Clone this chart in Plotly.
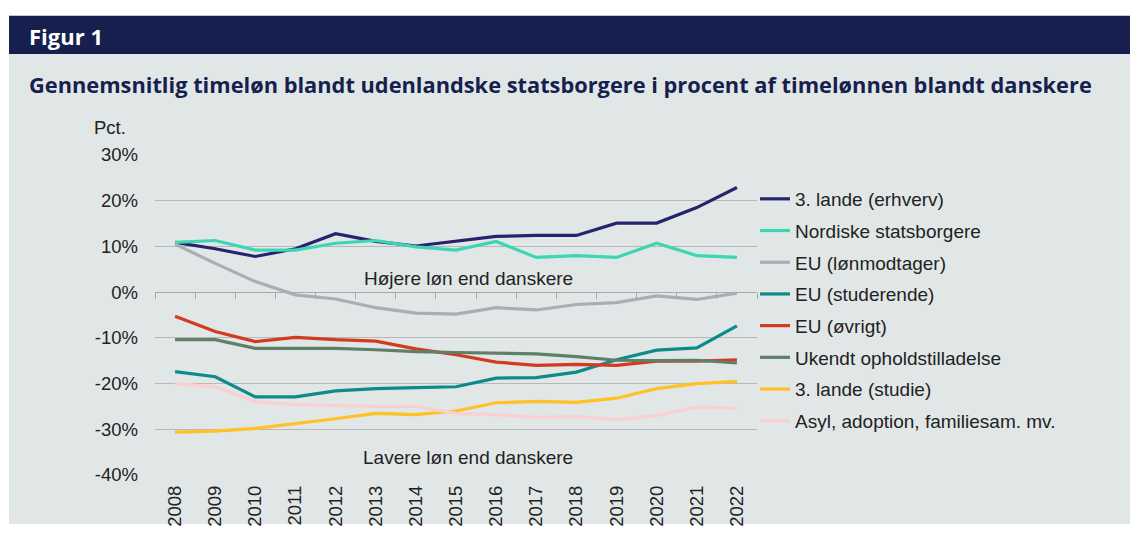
import plotly.graph_objects as go

years = [str(y) for y in range(2008, 2023)]

series_names = [
    "3. lande (erhverv)",
    "Nordiske statsborgere",
    "EU (lønmodtager)",
    "EU (studerende)",
    "EU (øvrigt)",
    "Ukendt opholdstilladelse",
    "3. lande (studie)",
    "Asyl, adoption, familiesam. mv.",
]

lande_erhverv = [10.9, 9.5, 7.8, 9.5, 12.8, 11.1, 10.1, 11.1, 12.2, 12.4, 12.4, 15.1, 15.1, 18.5, 22.9]
nordiske = [10.9, 11.3, 9.2, 9.2, 10.7, 11.3, 9.9, 9.2, 11.1, 7.6, 8.0, 7.6, 10.7, 8.0, 7.6]
eu_loenmodtager = [10.5, 6.3, 2.3, -0.6, -1.5, -3.4, -4.6, -4.8, -3.4, -3.9, -2.7, -2.3, -0.8, -1.6, -0.2]
eu_studerende = [-17.4, -18.5, -22.9, -22.9, -21.6, -21.1, -20.9, -20.7, -18.8, -18.7, -17.5, -14.8, -12.7, -12.2, -7.4]
eu_oevrigt = [-5.3, -8.6, -10.8, -9.9, -10.4, -10.7, -12.4, -13.7, -15.3, -16.0, -15.8, -16.0, -15.1, -15.1, -14.8]
ukendt = [-10.4, -10.4, -12.3, -12.3, -12.3, -12.6, -13.0, -13.2, -13.3, -13.5, -14.1, -14.9, -15.0, -14.9, -15.5]
lande_studie = [-30.6, -30.4, -29.8, -28.8, -27.7, -26.5, -26.8, -26.0, -24.2, -23.9, -24.1, -23.2, -21.1, -20.0, -19.5]
asyl = [-20.0, -20.7, -23.9, -24.6, -24.8, -25.0, -25.0, -26.5, -26.8, -27.4, -27.2, -27.9, -27.0, -25.1, -25.4]

series_values = [lande_erhverv, nordiske, eu_loenmodtager, eu_studerende,
                 eu_oevrigt, ukendt, lande_studie, asyl]
colors = ["#27236e", "#3dd6b5", "#a8adb6", "#0e8a8a",
          "#d23b1f", "#5f7f68", "#ffc125", "#f9cfd1"]

y_ticks = [-40, -30, -20, -10, 0, 10, 20, 30]
y_tick_labels = ["-40%", "-30%", "-20%", "-10%", "0%", "10%", "20%", "30%"]

W, H = 1130, 539
L, R, T, B = 155, 757, 155, 488  # plot area in px

fig = go.Figure()
for i, (name, vals, col) in enumerate(zip(series_names, series_values, colors)):
    fig.add_trace(go.Scatter(
        x=years, y=vals, name=name, mode="lines",
        line=dict(color=col, width=3.2),
        legendgroup=f"g{i}",
        xaxis="x2" if i == len(series_names) - 1 else "x",
        yaxis="y",
    ))

def px_x(p):
    return (p - L) / (R - L)

def px_y(p):
    return (B - p) / (B - T)

panel = "#e1e7e7"
navy = "#161f4d"
shapes = [
    dict(type="rect", xref="paper", yref="paper", layer="below",
         x0=px_x(9), x1=px_x(W), y0=px_y(50), y1=px_y(H),
         fillcolor=panel, line=dict(width=0)),
    dict(type="rect", xref="paper", yref="paper", layer="below",
         x0=px_x(9), x1=px_x(W), y0=px_y(10), y1=px_y(50),
         fillcolor=navy, line=dict(width=0)),
]

font_main = "Liberation Sans, Arial, sans-serif"
title_font = "Open Sans"
annotations = [
    dict(text="<b>Figur 1</b>", xref="paper", yref="paper", x=px_x(27), y=px_y(31),
         xanchor="left", yanchor="middle", showarrow=False,
         font=dict(family=title_font, size=22, color="white")),
    dict(text="<b>Gennemsnitlig timeløn blandt udenlandske statsborgere i procent af timelønnen blandt danskere</b>",
         xref="paper", yref="paper", x=px_x(27), y=px_y(82),
         xanchor="left", yanchor="middle", showarrow=False,
         font=dict(family=title_font, size=21.8, color=navy)),
    dict(text="Pct.", xref="paper", yref="paper", x=px_x(92), y=px_y(126),
         xanchor="left", yanchor="middle", showarrow=False,
         font=dict(family=font_main, size=18.5, color="#222222")),
    dict(text="Højere løn end danskere", xref="paper", yref="y", x=px_x(468), y=2.9,
         xanchor="center", yanchor="middle", showarrow=False,
         font=dict(family=font_main, size=19, color="#222222")),
    dict(text="Lavere løn end danskere", xref="paper", yref="y", x=px_x(468), y=-36.1,
         xanchor="center", yanchor="middle", showarrow=False,
         font=dict(family=font_main, size=19, color="#222222")),
]

fig.update_layout(
    width=W, height=H,
    margin=dict(l=L, r=W - R, t=T, b=H - B, pad=0),
    paper_bgcolor="white",
    plot_bgcolor="rgba(0,0,0,0)",
    font=dict(family=font_main, size=18.5, color="#222222"),
    shapes=shapes,
    annotations=annotations,
    showlegend=True,
    legend=dict(x=px_x(755), y=px_y(181), xanchor="left", yanchor="top",
                bgcolor="rgba(0,0,0,0)", font=dict(size=19, color="#222222"),
                tracegroupgap=4, traceorder="grouped"),
    xaxis=dict(type="category", categoryorder="array", categoryarray=years,
               range=[-0.5, 14.5], showgrid=False, showline=False, ticks="",
               tickangle=-90, tickfont=dict(size=18.5), ticklabelstandoff=6,
               fixedrange=True),
    xaxis2=dict(type="category", categoryorder="array", categoryarray=years,
                range=[-0.5, 14.5], overlaying="x", anchor="free",
                position=(0 - (-40)) / 70,
                side="bottom", showgrid=False, showline=True, linecolor="#a9a9a9",
                linewidth=1, ticks="outside", tickson="boundaries", ticklen=6,
                tickcolor="#a9a9a9", showticklabels=False, fixedrange=True),
    yaxis=dict(range=[-40, 30], tickmode="array", tickvals=y_ticks, ticktext=y_tick_labels,
               showgrid=True, gridcolor="#b8b8b8", gridwidth=1,
               zeroline=False, showline=False, ticks="",
               ticklabelstandoff=16, fixedrange=True),
)

fig.write_html(
    "out.html",
    config={"displayModeBar": False},
    post_script=(
        "document.documentElement.style.overflow='hidden';"
        "document.body.style.margin='0';document.body.style.overflow='hidden';"
        "var gd=document.getElementById('{plot_id}');"
        "gd.style.overflow='hidden';gd.style.position='fixed';gd.style.top='0';gd.style.left='0';"
        "var vh=window.innerHeight||document.documentElement.clientHeight;"
        "var vw=window.innerWidth||document.documentElement.clientWidth;"
        "if(vh>0&&vw>0){gd.style.transformOrigin='0 0';"
        "gd.style.transform='scale('+(vw/1130)+','+(vh/539)+')';}"
    ),
)
